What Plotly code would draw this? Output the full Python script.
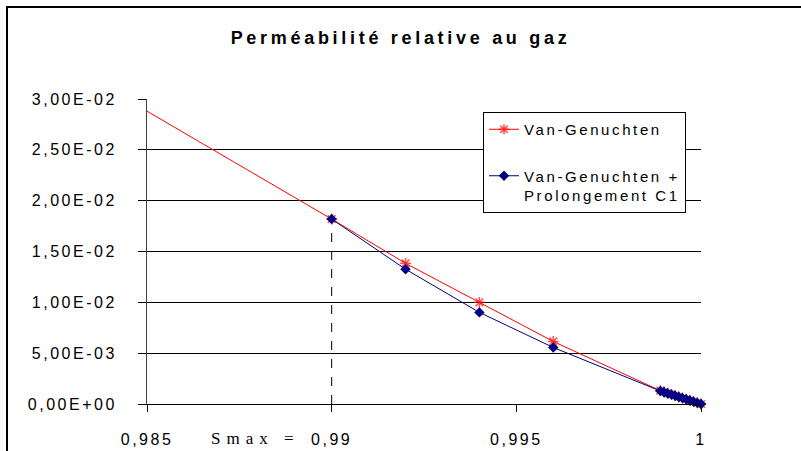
import plotly.graph_objects as go

# ---- data ----
s_vg = [0.985, 0.990, 0.992, 0.994, 0.996,
        0.9989, 0.9990, 0.9991, 0.9992, 0.9993, 0.9994,
        0.9995, 0.9996, 0.9997, 0.9998, 0.9999, 1.0000]
kr_vg = [0.0288, 0.01819, 0.01384, 0.01000, 0.00615,
         0.00131, 0.00119, 0.00107, 0.00095, 0.00083, 0.00071,
         0.00059, 0.00047, 0.00035, 0.00023, 0.00011, 0.00000]

s_c1 = [0.990, 0.992, 0.994, 0.996,
        0.9989, 0.9990, 0.9991, 0.9992, 0.9993, 0.9994,
        0.9995, 0.9996, 0.9997, 0.9998, 0.9999, 1.0000]
kr_c1 = [0.01819, 0.01326, 0.00901, 0.00556,
         0.00128, 0.00116, 0.00104, 0.00093, 0.00081, 0.00069,
         0.00058, 0.00046, 0.00034, 0.00023, 0.00011, 0.00000]

s_max = 0.990
kr_at_smax = 0.01819

y_ticks = [0, 0.005, 0.010, 0.015, 0.020, 0.025, 0.030]
y_labels = ["0,00E+00", "5,00E-03", "1,00E-02", "1,50E-02",
            "2,00E-02", "2,50E-02", "3,00E-02"]
x_ticks = [0.985, 0.990, 0.995, 1.000]
x_labels = ["0,985", "0,99", "0,995", "1"]

title_text = "Perméabilité relative au gaz"
name_vg = "Van-Genuchten"
name_c1_lines = ["Van-Genuchten +", "Prolongement C1"]
smax_label = "Smax ="

FONT = "Liberation Sans Narrow, Arial Narrow, Liberation Sans, Arial, sans-serif"
SERIF = "Liberation Serif, Times New Roman, serif"


def sp(t, ls=3):
    return f"<span style='letter-spacing:{ls}px'>{t}</span>"


# first red point is the extension of the curve (no marker drawn there)
vg_marker_sizes = [0] + [9] * (len(s_vg) - 1)

fig = go.Figure()

fig.add_trace(go.Scatter(
    x=[s_max, s_max], y=[0, kr_at_smax], mode="lines",
    line=dict(color="black", width=1, dash="dash"),
    showlegend=False, hoverinfo="skip", legendgroup="z"))

fig.add_trace(go.Scatter(
    x=s_vg, y=kr_vg, mode="lines+markers", name=sp(name_vg, 2.6),
    legendgroup="a",
    line=dict(color="#FF0000", width=1),
    marker=dict(symbol="asterisk-open", size=vg_marker_sizes,
                line=dict(color="#FF0000", width=1.5), color="#FF0000"),
    cliponaxis=False))

fig.add_trace(go.Scatter(
    x=s_c1, y=kr_c1, mode="lines+markers",
    name="<br>".join(sp(t, 2.6) for t in name_c1_lines),
    legendgroup="b",
    line=dict(color="#000080", width=1),
    marker=dict(symbol="diamond", size=8, color="#000080"),
    cliponaxis=False))

fig.update_layout(
    width=801, height=451,
    margin=dict(l=147, r=100, t=99, b=47),
    paper_bgcolor="white", plot_bgcolor="white",
    font=dict(family=FONT, size=15, color="black"),
    title=dict(text=sp(title_text, 3.7), x=0.5, xref="container",
               y=1 - 38 / 451, yref="container", yanchor="middle",
               xanchor="center",
               font=dict(family=FONT, size=18, weight="bold", color="black")),
    showlegend=True,
    legend=dict(x=(483 - 147) / 554, y=(404 - 112) / 305,
                xanchor="left", yanchor="top",
                bgcolor="white", bordercolor="black", borderwidth=1,
                font=dict(family=FONT, size=15, color="black"),
                tracegroupgap=24, valign="top", traceorder="grouped"),
    xaxis=dict(range=[0.985, 1.0], tickvals=x_ticks,
               ticktext=[sp(t, 2.5) for t in x_labels],
               showgrid=False, zeroline=False, automargin=False,
               showline=True, linecolor="black", linewidth=1,
               ticks="outside", ticklen=7, tickcolor="black",
               ticklabelstandoff=14,
               tickfont=dict(family=FONT, size=16)),
    yaxis=dict(range=[0, 0.03], tickvals=y_ticks,
               ticktext=[sp(t, 2.5) for t in y_labels],
               showgrid=True, gridcolor="black", gridwidth=1,
               zeroline=False, automargin=False,
               showline=True, linecolor="#404040", linewidth=1,
               ticks="outside", ticklen=8, tickcolor="black",
               ticklabelstandoff=18,
               tickfont=dict(family=FONT, size=16)),
    hovermode=False,
)

# outer chart border (top and left visible; right/bottom fall outside)
fig.add_shape(type="rect", xref="paper", yref="paper",
              x0=(7 - 147) / 554, x1=(810 - 147) / 554,
              y0=(404 - 460) / 305, y1=(404 - 7) / 305,
              line=dict(color="black", width=2), fillcolor="rgba(0,0,0,0)",
              layer="below")

fig.add_annotation(text=sp(smax_label, 6), xref="paper", yref="paper",
                   x=(302 - 147) / 554, y=(404 - 439) / 305,
                   xanchor="right", yanchor="middle", showarrow=False,
                   font=dict(family=SERIF, size=17, color="black"))

fig.write_html("out.html",
               config={"displayModeBar": False},
               post_script="document.body.style.margin='0';"
                           "document.body.style.overflow='hidden';")
